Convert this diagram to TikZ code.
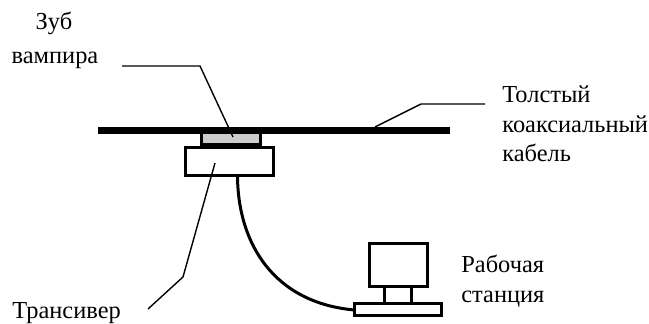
\documentclass[tikz,border=0pt]{standalone}
\usepackage{fontspec}
\setmainfont{Liberation Serif}
\usetikzlibrary{positioning}

\tikzset{
  partbox/.style={draw, line width=1.5pt, rectangle, inner sep=0pt, outer sep=0pt},
  leader/.style={line width=0.7pt},
  caption/.style={font=\fontsize{12.2}{14.75}\selectfont, inner sep=0pt, align=left, anchor=west},
}

\begin{document}
\begin{tikzpicture}[x=0.5pt, y=-0.5pt]
  \useasboundingbox (0,0) rectangle (649,324);
  \node[partbox, fill=black!20, minimum width=29.5pt, minimum height=6.5pt] (tap) at (230.5,138) {};
  \node[rectangle, fill=black, inner sep=0pt, minimum width=176pt, minimum height=3.5pt] (cable) at (274,130.5) {};
  \node[partbox, minimum width=44pt, minimum height=14pt] (trans) at (229.5,162) {};
  \node[partbox, minimum width=29pt, minimum height=21.5pt] (screen) at (398,265.5) {};
  \node[partbox, below=0pt of screen, minimum width=13.5pt, minimum height=8.5pt] (neck) {};
  \node[partbox, below=0pt of neck, minimum width=43.5pt, minimum height=6pt] (base) {};

  \node[caption, anchor=center] (zub) at (54,23) {Зуб};
  \node[caption, anchor=center] (vamp) at (55,60) {вампира};
  \node[caption] (thick) at (502,124) {Толстый\\коаксиальный\\кабель};
  \node[caption] (work) at (461,281) {Рабочая\\станция};
  \node[caption] (tlab) at (12,313) {Трансивер};

  \coordinate (tapend) at (233,137);
  \coordinate (tapfree) at (122,66);
  \coordinate (cabend) at (375,127);
  \coordinate (cabfree) at (485,104);
  \coordinate (transend) at (215,163);
  \coordinate (transfree) at (148,309);

  \draw[leader] (tapfree) -- (200,66) -- (tapend);
  \draw[leader] (cabend) -- (421,104) -- (cabfree);
  \draw[leader] (transend) -- (183,277) -- (transfree);
  \draw[line width=1.5pt] (trans.south) ++(8,0) .. controls (238,245) and (275,303) .. (base.west);
\end{tikzpicture}
\end{document}
